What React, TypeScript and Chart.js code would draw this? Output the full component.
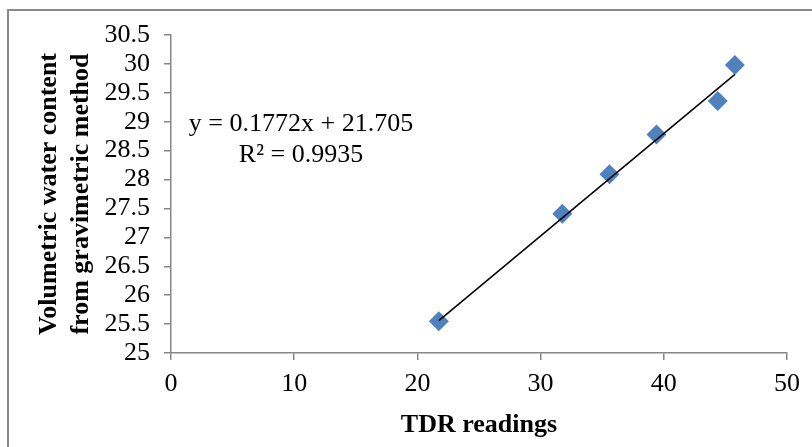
import React, { useEffect, useRef } from "react";
import { Chart, registerables } from "chart.js";

Chart.register(...registerables);

// Data
const tdrReadings = [21.74, 31.76, 35.59, 39.41, 44.38, 45.77];
const gravimetricContent = [25.55, 27.41, 28.09, 28.78, 29.36, 29.98];
const trendX = [21.74, 45.77];
const trendY = [25.56, 29.82];
const equationLines = ["y = 0.1772x + 21.705", "R² = 0.9935"];
const xTitle = "TDR readings";
const yTitle = ["Volumetric water content", "from gravimetric method"];

const SERIF = "'Liberation Serif', 'Times New Roman', Times, serif";
const AXIS_GRAY = "#868686";
const MARKER_BLUE = "#4F81BD";

const equationPlugin = {
  id: "equationText",
  afterDraw(chart: any) {
    const { ctx, chartArea } = chart;
    ctx.save();
    ctx.font = `26px ${SERIF}`;
    ctx.fillStyle = "#000";
    ctx.textAlign = "center";
    ctx.textBaseline = "middle";
    const cx = chartArea.left + 130;
    ctx.fillText(equationLines[0], cx, chartArea.top + 89);
    ctx.fillText(equationLines[1], cx, chartArea.top + 120);
    ctx.restore();
  },
};

export default function App() {
  const canvasRef = useRef<HTMLCanvasElement | null>(null);

  useEffect(() => {
    const canvas = canvasRef.current;
    if (!canvas) return;
    const chart = new Chart(canvas, {
      type: "scatter",
      data: {
        datasets: [
          {
            type: "line",
            label: "Trend",
            data: trendX.map((x, i) => ({ x, y: trendY[i] })),
            borderColor: "#000",
            borderWidth: 1.5,
            pointRadius: 0,
            fill: false,
            showLine: true,
          } as any,
          {
            label: "Readings",
            data: tdrReadings.map((x, i) => ({ x, y: gravimetricContent[i] })),
            pointStyle: "rectRot",
            pointRadius: 10,
            pointHoverRadius: 10,
            backgroundColor: MARKER_BLUE,
            borderColor: MARKER_BLUE,
            borderWidth: 0,
          },
        ],
      },
      options: {
        animation: false,
        responsive: false,
        events: [],
        layout: { padding: { left: 20, top: 35, right: 25, bottom: 0 } },
        plugins: {
          legend: { display: false },
          tooltip: { enabled: false },
        },
        scales: {
          x: {
            type: "linear",
            min: 0,
            max: 50,
            afterFit: (scale: any) => {
              scale.height = 94;
            },
            ticks: {
              stepSize: 10,
              autoSkip: false,
              maxRotation: 0,
              color: "#000",
              padding: 9,
              font: { family: SERIF, size: 26 },
              callback: (v: any) => String(v),
            },
            grid: {
              drawOnChartArea: false,
              drawTicks: true,
              tickLength: 7,
              color: AXIS_GRAY,
              lineWidth: 1.5,
            },
            border: { display: true, color: AXIS_GRAY, width: 1.5 },
            title: {
              display: true,
              text: xTitle,
              color: "#000",
              font: { family: SERIF, size: 26, weight: "bold" },
              padding: { top: 0, bottom: 6 },
            },
          },
          y: {
            type: "linear",
            min: 25,
            max: 30.5,
            afterFit: (scale: any) => {
              scale.width = 151;
            },
            ticks: {
              stepSize: 0.5,
              autoSkip: false,
              color: "#000",
              padding: 14,
              font: { family: SERIF, size: 26 },
              callback: (v: any) => String(v),
            },
            grid: {
              drawOnChartArea: false,
              drawTicks: true,
              tickLength: 7,
              color: AXIS_GRAY,
              lineWidth: 1.5,
            },
            border: { display: true, color: AXIS_GRAY, width: 1.5 },
            title: {
              display: true,
              text: yTitle,
              color: "#000",
              font: { family: SERIF, size: 26, weight: "bold", lineHeight: 1.2 },
              padding: { top: 14, bottom: 0 },
            },
          },
        },
      },
      plugins: [equationPlugin],
    } as any);
    return () => chart.destroy();
  }, []);

  return (
    <div
      style={{
        position: "fixed",
        left: 0,
        top: 0,
        width: 812,
        height: 447,
        background: "#fff",
        overflow: "hidden",
      }}
    >
      <div
        style={{
          position: "absolute",
          left: 7,
          top: 9,
          width: 900,
          height: 600,
          borderTop: "2px solid #8a8a8a",
          borderLeft: "2px solid #8a8a8a",
          boxSizing: "border-box",
        }}
      />
      <canvas
        ref={canvasRef}
        width={812}
        height={447}
        style={{ position: "absolute", left: 0, top: 0, display: "block" }}
      />
    </div>
  );
}
